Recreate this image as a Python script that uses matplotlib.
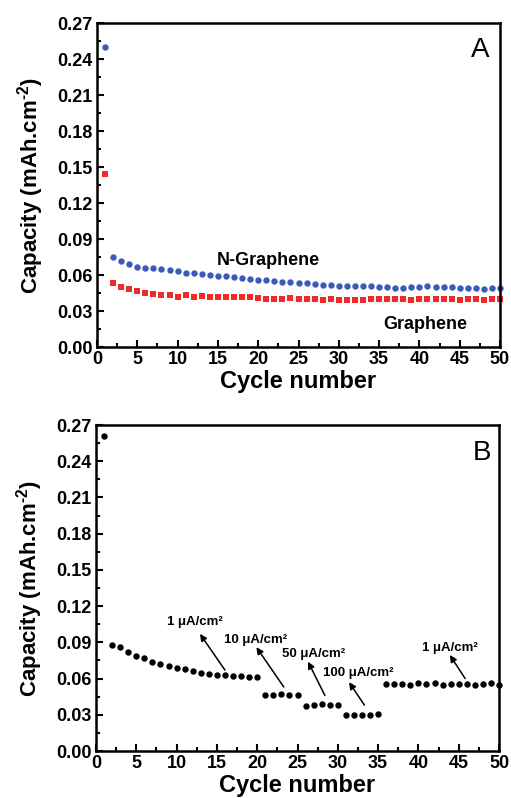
import matplotlib
matplotlib.use("Agg")
import matplotlib.pyplot as plt
from matplotlib.ticker import MultipleLocator, FormatStrFormatter

plt.rcParams['font.family'] = ['Liberation Sans', 'DejaVu Sans']
plt.rcParams['mathtext.fontset'] = 'custom'
plt.rcParams['mathtext.rm'] = 'Liberation Sans:bold'
plt.rcParams['mathtext.bf'] = 'Liberation Sans:bold'
plt.rcParams['mathtext.it'] = 'Liberation Sans:bold'

# ---------------- data ----------------
cycles = list(range(1, 51))

n_graphene = [0.250, 0.075, 0.072, 0.0695, 0.067, 0.066, 0.0655, 0.065, 0.0645, 0.0635,
              0.062, 0.0615, 0.061, 0.060, 0.0595, 0.059, 0.058, 0.0575, 0.057, 0.056,
              0.0555, 0.055, 0.0545, 0.054, 0.0535, 0.053, 0.0525, 0.052, 0.0515, 0.051,
              0.0505, 0.0505, 0.0505, 0.0505, 0.050, 0.050, 0.0495, 0.0495, 0.050, 0.050,
              0.0505, 0.050, 0.050, 0.050, 0.0495, 0.049, 0.049, 0.0485, 0.049, 0.049]

graphene = [0.144, 0.053, 0.050, 0.048, 0.047, 0.045, 0.0445, 0.043, 0.0435, 0.042,
            0.043, 0.042, 0.0425, 0.042, 0.0415, 0.042, 0.0415, 0.042, 0.0415, 0.0405,
            0.040, 0.040, 0.040, 0.0405, 0.040, 0.040, 0.040, 0.0395, 0.040, 0.0395,
            0.039, 0.039, 0.0395, 0.040, 0.040, 0.040, 0.040, 0.040, 0.0395, 0.040,
            0.040, 0.040, 0.040, 0.040, 0.0395, 0.040, 0.040, 0.0395, 0.040, 0.040]

rate_capacity = [0.261, 0.088, 0.086, 0.082, 0.079, 0.077, 0.074, 0.072, 0.070, 0.069,
                 0.068, 0.066, 0.065, 0.064, 0.063, 0.063, 0.062, 0.062, 0.061, 0.061,
                 0.046, 0.046, 0.047, 0.046, 0.046,
                 0.037, 0.038, 0.039, 0.038, 0.038,
                 0.030, 0.030, 0.030, 0.030, 0.031,
                 0.0555, 0.0555, 0.0555, 0.055, 0.056, 0.0555, 0.056, 0.055, 0.0555, 0.0555,
                 0.0555, 0.055, 0.0555, 0.056, 0.055]

rate_labels = ['1 μA/cm²', '10 μA/cm²', '50 μA/cm²', '100 μA/cm²', '1 μA/cm²']
rate_text_xy = [(12.3, 0.107), (19.8, 0.092), (27.0, 0.080), (32.5, 0.065), (43.9, 0.085)]
rate_arrow_tail = [(16.0, 0.067), (23.3, 0.053), (28.4, 0.046), (33.3, 0.038), (45.8, 0.060)]
rate_arrow_head = [(12.9, 0.097), (19.9, 0.086), (26.3, 0.074), (31.4, 0.057), (43.9, 0.0795)]

x_ticks = list(range(0, 51, 5))
y_ticks = [0.00, 0.03, 0.06, 0.09, 0.12, 0.15, 0.18, 0.21, 0.24, 0.27]

# ---------------- figure ----------------
fig = plt.figure(figsize=(5.11, 7.98), dpi=100)
W, H = 511, 798
axA = fig.add_axes([97 / W, 1 - 347 / H, 403 / W, 324 / H])
axB = fig.add_axes([96 / W, 1 - 751 / H, 403 / W, 326 / H])

ylabel = r'Capacity (mAh.cm$^{\text{-}2}$)'

def style(ax):
    ax.set_xlim(0, 50)
    ax.set_ylim(0, 0.27)
    ax.set_xticks(x_ticks)
    ax.set_yticks(y_ticks)
    ax.yaxis.set_major_formatter(FormatStrFormatter('%.2f'))
    ax.xaxis.set_minor_locator(MultipleLocator(2.5))
    ax.yaxis.set_minor_locator(MultipleLocator(0.015))
    ax.tick_params(which='both', direction='in', top=False, right=False, width=1.5)
    ax.tick_params(which='major', length=5, labelsize=13, pad=3)
    ax.tick_params(which='minor', length=3)
    for lab in ax.get_xticklabels() + ax.get_yticklabels():
        lab.set_fontweight('bold')
    for s in ax.spines.values():
        s.set_linewidth(1.8)
    ax.set_xlabel('Cycle number', fontsize=17, fontweight='bold', labelpad=1)
    ax.set_ylabel(ylabel, fontsize=16, fontweight='bold', labelpad=8)

# Panel A
axA.plot(cycles, n_graphene, 'o', color='#3A5CB8', markersize=4.6, markeredgewidth=0, clip_on=False)
axA.plot(cycles, graphene, 's', color='#EE2A2A', markersize=4.2, markeredgewidth=0, clip_on=False)
style(axA)
axA.text(21.2, 0.0717, 'N-Graphene', fontsize=13, fontweight='bold', ha='center', va='center')
axA.text(40.7, 0.019, 'Graphene', fontsize=13, fontweight='bold', ha='center', va='center')
axA.text(0.95, 0.917, 'A', transform=axA.transAxes, fontsize=20, ha='center', va='center')

# Panel B
axB.plot(cycles, rate_capacity, 'o', color='black', markersize=4.6, markeredgewidth=0, clip_on=False)
style(axB)
for lab, txy, tail, head in zip(rate_labels, rate_text_xy, rate_arrow_tail, rate_arrow_head):
    axB.text(txy[0], txy[1], lab, fontsize=9.5, fontweight='bold', ha='center', va='center')
    axB.annotate('', xy=head, xytext=tail,
                 arrowprops=dict(arrowstyle='-|>', color='black', lw=1.1,
                                 mutation_scale=10, shrinkA=0, shrinkB=0))
axB.text(0.957, 0.913, 'B', transform=axB.transAxes, fontsize=20, ha='center', va='center')

fig.savefig('out.png', dpi=100)
